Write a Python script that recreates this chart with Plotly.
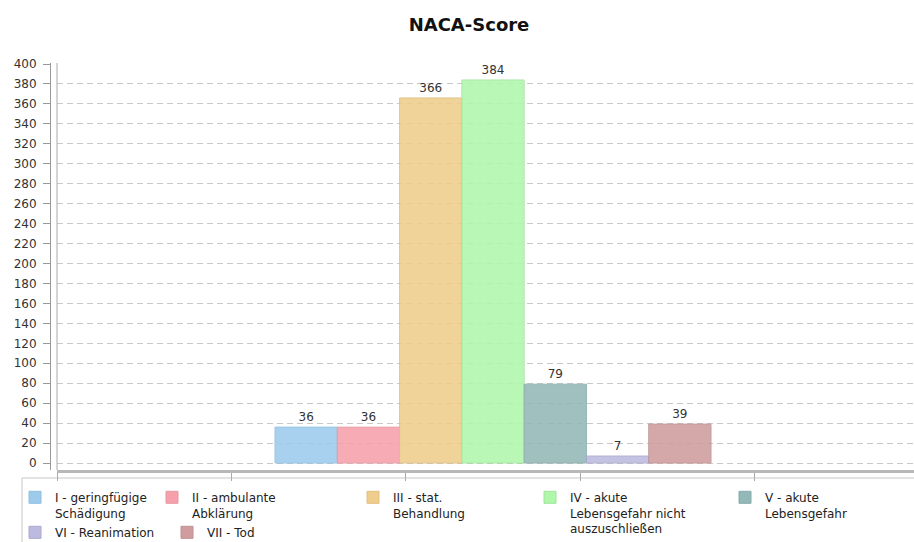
import plotly.graph_objects as go

series_names = [
    "I - geringfügige<br>Schädigung",
    "II - ambulante<br>Abklärung",
    "III - stat.<br>Behandlung",
    "IV - akute<br>Lebensgefahr nicht<br>auszuschließen",
    "V - akute<br>Lebensgefahr",
    "VI - Reanimation",
    "VII - Tod",
]
values = [36, 36, 366, 384, 79, 7, 39]
colors = ["#9ccbec", "#f5a0ab", "#efcd8c", "#b0f7ac", "#93b8b8", "#bdbae0", "#cf9d9d"]
line_colors = ["#8fbfe0", "#e898a3", "#e0bf80", "#9ee69a", "#88aaaa", "#aaa8d0", "#c09090"]
y_ticks = list(range(0, 401, 20))

# legend entry text positions (px, left of text / row)
legend_text_x = [55, 192, 393, 570, 765, 55, 207]
legend_row = [0, 0, 0, 0, 0, 1, 1]

font_family = "DejaVu Sans, Verdana, sans-serif"

W, H = 914, 542
ml, mr, mt, mb = 50, 0, 63, 72
pw = W - ml - mr
ph = H - mt - mb
dom0 = 7 / pw

fig = go.Figure()
legend_layouts = {}
for i, (name, v, c, lc) in enumerate(zip(series_names, values, colors, line_colors)):
    key = "legend" if i == 0 else f"legend{i + 1}"
    fig.add_trace(go.Bar(
        x=[0], y=[v], name=name, legend=key,
        marker=dict(color=c, opacity=0.88, line=dict(color=lc, width=1)),
        text=[str(v)], textposition="outside",
        textfont=dict(size=12, color="#333333", family=font_family),
        cliponaxis=False,
    ))
    top_px = 483 if legend_row[i] == 0 else 518
    legend_layouts[key] = dict(
        xref="container", yref="container",
        x=(legend_text_x[i] - 40) / W, xanchor="left",
        y=1 - top_px / H, yanchor="top",
        bgcolor="rgba(0,0,0,0)", borderwidth=0,
        font=dict(size=12, color="#222222", family=font_family),
        valign="top",
    )

fig.update_layout(
    width=W, height=H,
    margin=dict(l=ml, r=mr, t=mt, b=mb, autoexpand=False),
    paper_bgcolor="white", plot_bgcolor="white",
    barmode="group", bargap=0.5, bargroupgap=0,
    font=dict(family=font_family, size=12, color="#333333"),
    title=dict(text="<b>NACA-Score</b>", x=469 / W, xanchor="center", y=1 - 25 / H, yanchor="middle",
               font=dict(size=18, color="#111111", family=font_family)),
    xaxis=dict(domain=[dom0, 1], range=[-0.5, -0.5 + 857 / 872], showgrid=False, zeroline=False,
               showticklabels=False, ticks="outside", tick0=-0.5, dtick=0.2, ticklen=8,
               tickcolor="#aaaaaa", showline=True, linecolor="#b8b8b8", linewidth=3, fixedrange=True),
    yaxis=dict(range=[-7, 401], tickvals=y_ticks, showgrid=True, gridcolor="#c8c8c8",
               griddash="6px,4px", gridwidth=1, zeroline=False, showline=True, linecolor="#999999",
               linewidth=1, ticks="outside", ticklen=7, tickcolor="#999999",
               anchor="free", position=0, ticklabelstandoff=4, fixedrange=True,
               tickfont=dict(size=12, color="#333333")),
    showlegend=True,
    hovermode=False,
    **legend_layouts,
)
# left wall line of the plot area
fig.add_shape(type="line", xref="paper", yref="paper", x0=dom0, x1=dom0, y0=0, y1=1,
              line=dict(color="#aaaaaa", width=1))
# legend frame
fig.add_shape(type="rect", xref="paper", yref="paper",
              x0=(22 - ml) / pw, x1=(W + 5 - ml) / pw,
              y0=-(H + 5 - (H - mb)) / ph, y1=-(478 - (H - mb)) / ph,
              line=dict(color="#c8c8c8", width=1), fillcolor="rgba(0,0,0,0)", layer="below")

fig.write_html("out.html", config={"displayModeBar": False},
               post_script="document.body.style.margin='0';")
